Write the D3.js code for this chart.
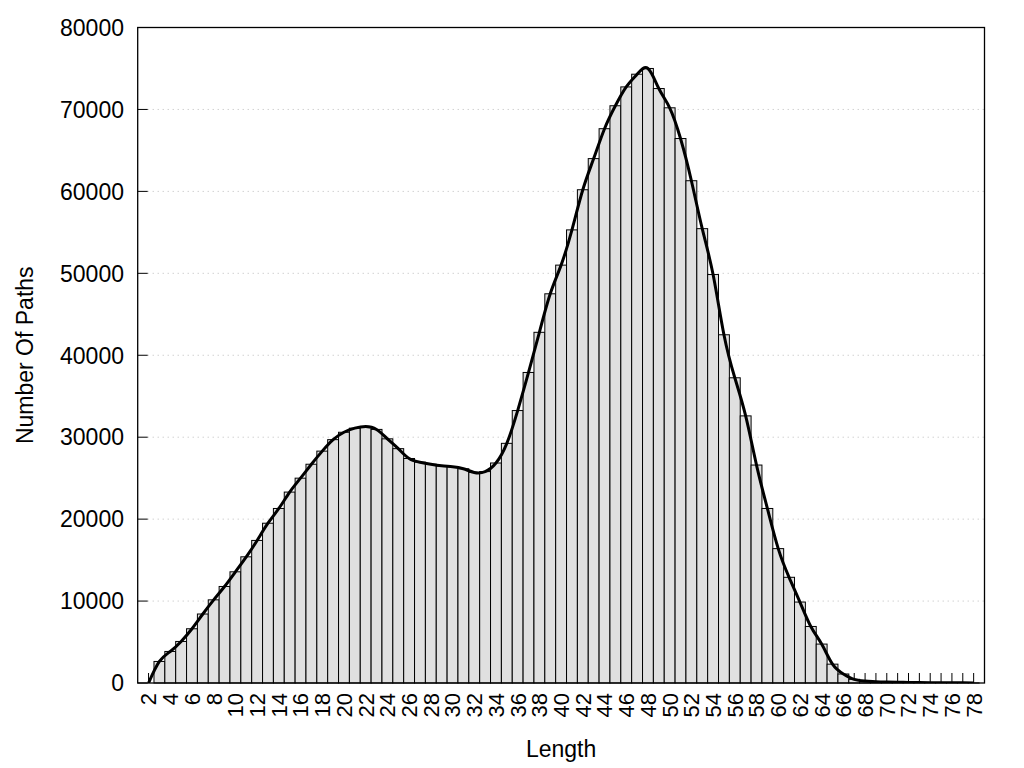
<!DOCTYPE html>
<html>
<head>
<meta charset="utf-8">
<script src="https://cdn.jsdelivr.net/npm/d3@7"></script>
<style>
  html, body { margin: 0; padding: 0; background: #fff; }
  svg { display: block; }
  text { font-family: "Liberation Sans", Arial, Helvetica, sans-serif; fill: #000; }
</style>
</head>
<body>
<svg id="chart" width="1024" height="768"></svg>
<script>
// ---- data ----
const lengths = d3.range(2, 79); // 2..78
const pathCounts = [
  0, 2630, 3850, 5070, 6620, 8420, 10150, 11780, 13570, 15400,
  17400, 19500, 21300, 23300, 25000, 26700, 28300, 29700, 30600, 31100,
  31300, 30950, 29800, 28600, 27400, 26950, 26700, 26500, 26400, 26150,
  25700, 25800, 26850, 29250, 33250, 37900, 42800, 47500, 51000, 55300,
  60200, 64000, 67650, 70450, 72750, 74300, 75000, 72550, 70200, 66450,
  61300, 55450, 49850, 42500, 37250, 32600, 26600, 21300, 16400, 12900,
  9880, 6900, 4750, 2300, 1100, 450, 250, 150, 110, 90,
  70, 55, 45, 35, 25, 18, 12
];
const yTicks = [0, 10000, 20000, 30000, 40000, 50000, 60000, 70000, 80000];
const xLabelTicks = d3.range(2, 79, 2);
const xTitle = "Length";
const yTitle = "Number Of Paths";

const data = lengths.map((k, i) => ({ k, v: pathCounts[i] }));

// ---- layout ----
const svg = d3.select("#chart");
const L = 137.7, R = 984.5, T = 27.5, B = 683;
const x = d3.scaleLinear().domain([1, 79]).range([L, R]);
const y = d3.scaleLinear().domain([0, 80000]).range([B, T]);

// grid lines
svg.append("g").selectAll("line")
  .data(yTicks.filter(t => t > 0 && t < 80000))
  .join("line")
  .attr("x1", L + 10).attr("x2", R)
  .attr("y1", d => y(d)).attr("y2", d => y(d))
  .attr("stroke", "#bbbbbb").attr("stroke-width", 1)
  .attr("stroke-dasharray", "1,4");

// x ticks (inward), under bars
svg.append("g").selectAll("line")
  .data(lengths)
  .join("line")
  .attr("x1", d => x(d)).attr("x2", d => x(d))
  .attr("y1", B).attr("y2", B - 10)
  .attr("stroke", "#000").attr("stroke-width", 1);

// bars
const bw = x(2) - x(1);
svg.append("g").selectAll("rect")
  .data(data.filter(d => d.v > 0))
  .join("rect")
  .attr("x", d => x(d.k) - bw / 2)
  .attr("width", bw)
  .attr("y", d => y(d.v))
  .attr("height", d => B - y(d.v))
  .attr("fill", "#e0e0e0")
  .attr("stroke", "#000")
  .attr("stroke-width", 1);

// y ticks (inward)
svg.append("g").selectAll("line")
  .data(yTicks)
  .join("line")
  .attr("x1", L).attr("x2", L + 10)
  .attr("y1", d => y(d)).attr("y2", d => y(d))
  .attr("stroke", "#000").attr("stroke-width", 1);

// clip for curve
svg.append("defs").append("clipPath").attr("id", "clip")
  .append("rect").attr("x", L).attr("y", T).attr("width", R - L).attr("height", B - T);

// smooth curve
const line = d3.line()
  .x(d => x(d.k))
  .y(d => y(Math.max(0, d.v)))
  .curve(d3.curveNatural);
svg.append("path")
  .datum(data)
  .attr("clip-path", "url(#clip)")
  .attr("d", line)
  .attr("fill", "none")
  .attr("stroke", "#000")
  .attr("stroke-width", 3)
  .attr("stroke-linejoin", "round");

// border
svg.append("rect")
  .attr("x", L).attr("y", T).attr("width", R - L).attr("height", B - T)
  .attr("fill", "none").attr("stroke", "#000").attr("stroke-width", 1.3);

// y tick labels
svg.append("g").selectAll("text")
  .data(yTicks)
  .join("text")
  .attr("x", 124)
  .attr("y", d => y(d))
  .attr("dy", "0.36em")
  .attr("text-anchor", "end")
  .attr("font-size", 23)
  .text(d => d);

// x tick labels (rotated)
svg.append("g").selectAll("text")
  .data(xLabelTicks)
  .join("text")
  .attr("transform", d => `translate(${x(d)},${B + 10}) rotate(-90)`)
  .attr("dy", "0.36em")
  .attr("text-anchor", "end")
  .attr("font-size", 22)
  .text(d => d);

// axis titles
svg.append("text")
  .attr("x", (L + R) / 2 + 0)
  .attr("y", 757)
  .attr("text-anchor", "middle")
  .attr("font-size", 23)
  .text(xTitle);

svg.append("text")
  .attr("transform", `translate(33,${(T + B) / 2}) rotate(-90)`)
  .attr("text-anchor", "middle")
  .attr("font-size", 23)
  .text(yTitle);
</script>
</body>
</html>
